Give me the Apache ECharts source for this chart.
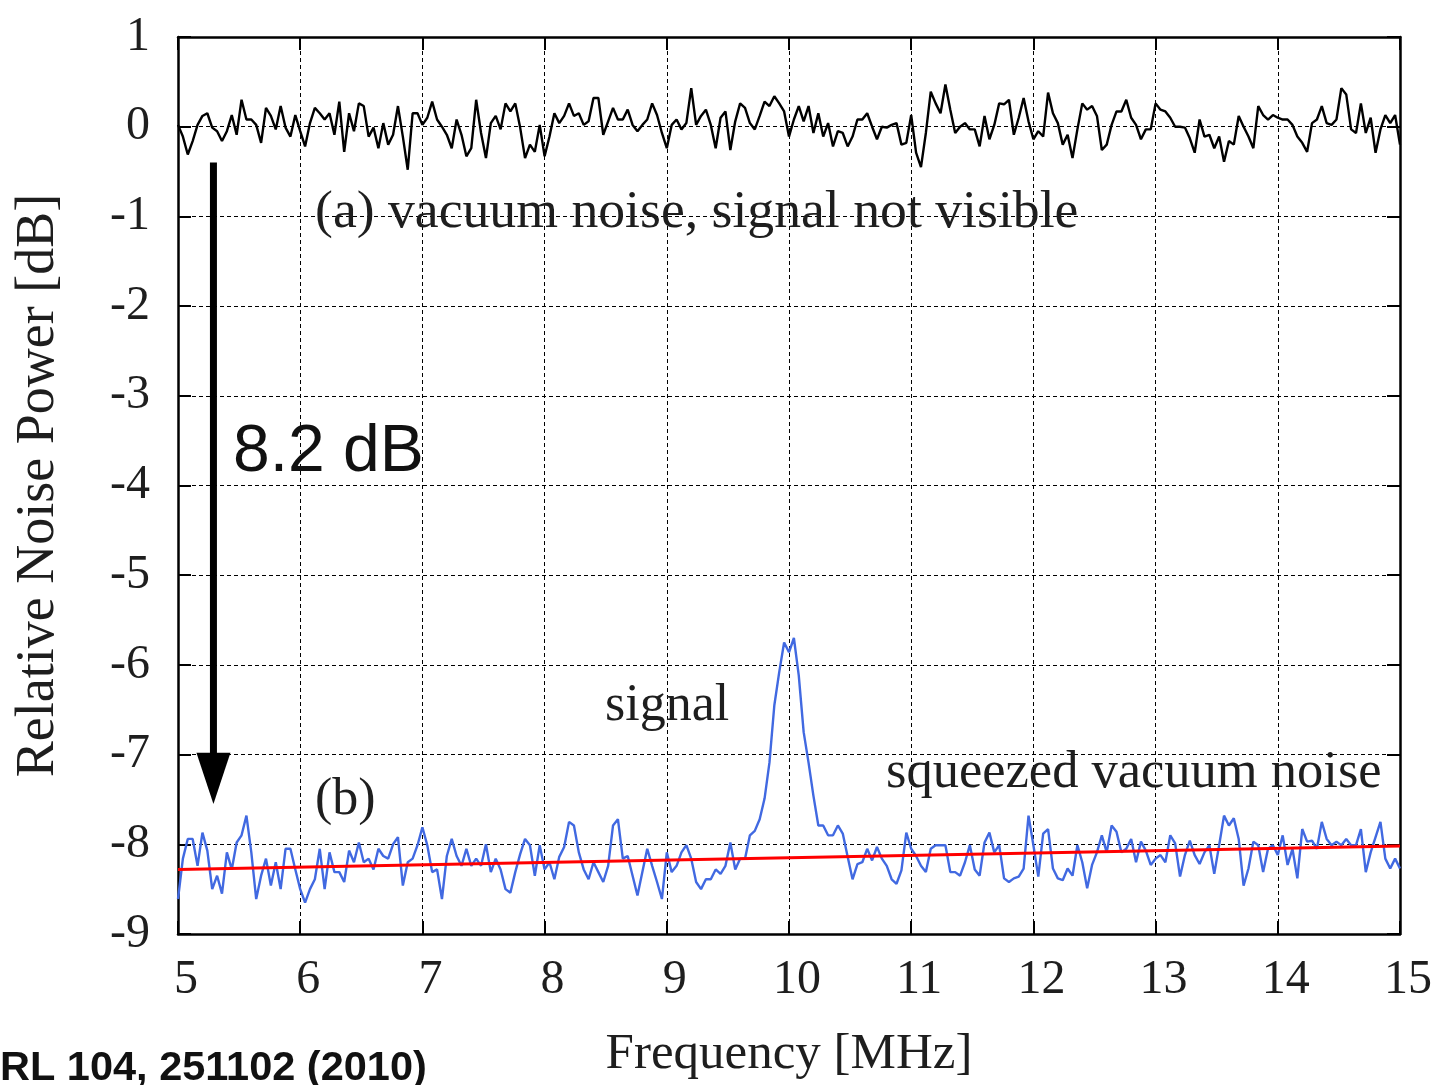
<!DOCTYPE html>
<html><head><meta charset="utf-8">
<script src="https://cdn.jsdelivr.net/npm/echarts@6/dist/echarts.min.js"></script>
<style>html,body{margin:0;padding:0;background:#fff;}#c{width:1437px;height:1085px;}</style>
</head><body><div id="c"></div>
<script>
// Frequency sample grid (MHz): 251 samples from 5 to 15 MHz
const freqStart = 5, freqStep = 0.04;
// (a) vacuum noise, dB
const vacuumDb = [
0.02,-0.11,-0.31,-0.16,0.02,0.12,0.15,-0.01,-0.05,-0.16,-0.05,0.13,-0.09,0.30,0.08,0.08,0.02,-0.18,0.21,0.12,-0.03,0.23,-0.01,-0.11,0.13,
-0.05,-0.22,0.04,0.21,0.15,0.08,0.15,-0.09,0.28,-0.28,0.15,-0.05,0.26,0.23,-0.11,-0.01,-0.24,0.04,-0.20,-0.09,0.23,-0.11,-0.48,0.15,0.15,
0.02,0.10,0.28,0.08,0.00,-0.09,-0.24,0.08,-0.09,-0.33,-0.24,0.30,-0.07,-0.35,0.04,0.12,-0.03,0.26,0.17,0.26,-0.01,-0.35,-0.20,-0.28,0.02,
-0.33,-0.11,0.15,0.04,0.12,0.26,0.12,0.15,0.02,0.06,0.32,0.32,-0.09,0.06,0.21,0.08,0.08,0.19,0.02,-0.05,0.02,0.08,0.26,0.13,-0.07,
-0.24,0.02,0.08,-0.03,0.04,0.43,0.02,0.12,0.19,0.02,-0.24,0.10,0.17,-0.26,0.06,0.26,0.21,0.04,-0.03,0.12,0.28,0.23,0.34,0.26,0.17,
-0.11,0.08,0.23,0.06,0.23,-0.07,0.15,-0.11,0.04,-0.22,-0.05,-0.07,-0.22,-0.11,0.08,0.08,0.15,0.00,-0.14,0.00,-0.01,0.02,0.04,-0.20,-0.18,
0.13,-0.29,-0.45,-0.07,0.39,0.26,0.15,0.47,0.19,-0.07,0.00,0.04,-0.03,-0.03,-0.22,0.12,-0.14,0.02,0.26,0.25,0.30,-0.09,0.10,0.32,0.06,
-0.14,-0.05,-0.11,0.38,0.15,0.04,-0.20,-0.09,-0.35,-0.03,0.26,0.19,0.23,0.12,-0.26,-0.20,0.02,0.17,0.17,0.30,0.10,0.02,-0.14,-0.03,-0.03,
0.26,0.19,0.17,0.10,0.00,0.00,-0.01,-0.13,-0.29,0.08,-0.11,-0.09,-0.24,-0.11,-0.39,-0.16,-0.20,0.12,0.00,-0.11,-0.24,0.23,0.13,0.08,0.13,
0.10,0.08,0.08,0.02,-0.11,-0.18,-0.28,0.04,0.08,0.23,0.04,0.02,0.08,0.43,0.36,-0.03,-0.07,0.26,-0.07,0.10,-0.29,-0.03,0.13,0.04,0.13,-0.20
];
// (b) squeezed vacuum noise with signal, dB
const squeezedDb = [
-8.61,-8.16,-7.94,-7.94,-8.24,-7.87,-8.07,-8.50,-8.35,-8.55,-8.09,-8.28,-7.98,-7.90,-7.68,-8.09,-8.61,-8.35,-8.16,-8.46,-8.20,-8.50,-8.05,-8.05,-8.28,
-8.50,-8.65,-8.50,-8.39,-8.05,-8.50,-8.09,-8.31,-8.31,-8.42,-8.07,-8.20,-7.98,-8.20,-8.16,-8.28,-8.05,-8.13,-8.16,-8.00,-7.92,-8.46,-8.20,-8.16,-8.01,
-7.81,-8.01,-8.31,-8.28,-8.61,-8.13,-7.94,-8.13,-8.24,-8.05,-8.24,-8.16,-8.24,-8.00,-8.31,-8.16,-8.28,-8.50,-8.54,-8.31,-8.11,-7.94,-8.01,-8.35,-8.01,
-8.28,-8.20,-8.39,-8.14,-8.03,-7.75,-7.79,-8.09,-8.28,-8.39,-8.20,-8.31,-8.42,-8.24,-7.79,-7.72,-8.16,-8.13,-8.35,-8.57,-8.31,-8.05,-8.24,-8.42,-8.61,
-8.09,-8.31,-8.24,-8.09,-8.01,-8.16,-8.42,-8.50,-8.39,-8.39,-8.28,-8.33,-8.24,-7.98,-8.28,-8.16,-8.16,-7.90,-7.85,-7.72,-7.49,-7.09,-6.45,-6.08,-5.75,
-5.86,-5.70,-6.12,-6.75,-7.09,-7.46,-7.79,-7.79,-7.90,-7.90,-7.79,-7.88,-8.14,-8.39,-8.22,-8.20,-8.05,-8.18,-8.03,-8.16,-8.24,-8.39,-8.44,-8.29,-7.87,
-8.05,-8.13,-8.24,-8.31,-8.05,-8.01,-8.01,-8.01,-8.31,-8.31,-8.35,-8.20,-8.01,-8.28,-8.35,-7.98,-7.87,-8.09,-8.01,-8.38,-8.42,-8.38,-8.36,-8.27,-7.68,
-8.01,-8.36,-7.88,-7.83,-8.27,-8.38,-8.40,-8.27,-8.35,-8.01,-8.20,-8.49,-8.23,-8.09,-7.90,-8.09,-7.79,-7.86,-8.09,-8.05,-7.94,-8.20,-7.97,-8.07,-8.23,
-8.16,-8.12,-8.20,-7.90,-7.99,-8.36,-8.12,-7.96,-8.12,-8.22,-8.09,-8.01,-8.33,-8.01,-7.68,-7.79,-7.71,-7.94,-8.46,-8.27,-7.97,-8.01,-8.31,-8.05,-8.01,
-8.12,-7.90,-8.23,-8.05,-8.38,-7.83,-7.97,-7.96,-8.05,-7.75,-7.94,-8.01,-7.97,-8.01,-7.94,-8.01,-8.01,-7.83,-8.31,-8.09,-7.92,-7.75,-8.16,-8.27,-8.16,-8.27
];
// fitted squeezed noise level (red line)
const fitFreq = [5, 15];
const fitDb = [-8.28, -8.02];
// axis ranges
const xRange = [5, 15], yRange = [-9, 1];
// arrow annotation (data coordinates)
const arrowFreq = 5.29, arrowTopDb = -0.40, arrowHeadDb = -6.98, arrowTipDb = -7.55;

function pairs(vals){ return vals.map((v,i)=>[+(freqStart+i*freqStep).toFixed(4), v]); }

const serif = '"Liberation Serif", "Times New Roman", serif';
const txt = '#1e1e1e';
const frame = {show:true, onZero:false, lineStyle:{color:'#000', width:2.5}};
const tick = {show:true, inside:true, length:13, lineStyle:{color:'#000', width:2}};

const chart = echarts.init(document.getElementById('c'), null, {renderer:'canvas'});
chart.setOption({
  animation:false,
  backgroundColor:'#fff',
  grid:{left:178, right:37, top:37, bottom:150},
  xAxis:[
    {type:'value', min:xRange[0], max:xRange[1], interval:1, position:'bottom',
     axisLine:frame, axisTick:tick,
     axisLabel:{fontFamily:serif, fontSize:48, color:txt, margin:22, padding:[0,0,0,16]},
     splitLine:{show:true, lineStyle:{type:[4,3], color:'#000', width:1}},
     name:'Frequency [MHz]', nameLocation:'middle', nameGap:95,
     nameTextStyle:{fontFamily:serif, fontSize:51, color:txt}},
    {type:'value', min:xRange[0], max:xRange[1], interval:1, position:'top',
     axisLine:frame, axisTick:tick, axisLabel:{show:false}, splitLine:{show:false}}
  ],
  yAxis:[
    {type:'value', min:yRange[0], max:yRange[1], interval:1, position:'left',
     axisLine:frame, axisTick:tick,
     axisLabel:{fontFamily:serif, fontSize:48, color:txt, margin:28},
     splitLine:{show:true, lineStyle:{type:[4,3], color:'#000', width:1}},
     name:'Relative Noise Power [dB]', nameLocation:'middle', nameGap:112,
     nameTextStyle:{fontFamily:serif, fontSize:54, color:txt}},
    {type:'value', min:yRange[0], max:yRange[1], interval:1, position:'right',
     axisLine:frame, axisTick:tick, axisLabel:{show:false}, splitLine:{show:false}}
  ],
  series:[
    {type:'line', name:'vacuum', data:pairs(vacuumDb), showSymbol:false, symbol:'none',
     lineStyle:{color:'#000', width:2.4}, z:3},
    {type:'line', name:'squeezed', data:pairs(squeezedDb), showSymbol:false, symbol:'none',
     lineStyle:{color:'#4169e1', width:2.4}, z:3},
    {type:'line', name:'fit', data:fitFreq.map((f,i)=>[f, fitDb[i]]), showSymbol:false, symbol:'none',
     lineStyle:{color:'#ff0000', width:3}, z:4}
  ]
});

const p0 = chart.convertToPixel({gridIndex:0}, [arrowFreq, arrowTopDb]);
const p1 = chart.convertToPixel({gridIndex:0}, [arrowFreq, arrowHeadDb]);
const p2 = chart.convertToPixel({gridIndex:0}, [arrowFreq, arrowTipDb]);
const shaftW = 7, headW = 34;
chart.setOption({
  graphic:[
    {type:'rect', shape:{x:p0[0]-shaftW/2, y:p0[1], width:shaftW, height:p1[1]-p0[1]+2}, style:{fill:'#000'}, z:10},
    {type:'polygon', shape:{points:[[p1[0]-headW/2,p1[1]],[p1[0]+headW/2,p1[1]],[p2[0],p2[1]]]}, style:{fill:'#000'}, z:10},
    {type:'text', x:315, y:213, style:{text:'(a) vacuum noise, signal not visible', font:'53.7px '+serif, fill:txt, verticalAlign:'middle', textVerticalAlign:'middle'}, z:10},
    {type:'text', x:233, y:453, style:{text:'8.2 dB', font:'66px "Liberation Sans", Arial, sans-serif', fill:'#111', verticalAlign:'middle', textVerticalAlign:'middle'}, z:10},
    {type:'text', x:605, y:706, style:{text:'signal', font:'52px '+serif, fill:txt, verticalAlign:'middle', textVerticalAlign:'middle'}, z:10},
    {type:'text', x:315, y:800, style:{text:'(b)', font:'52px '+serif, fill:txt, verticalAlign:'middle', textVerticalAlign:'middle'}, z:10},
    {type:'text', x:886, y:773, style:{text:'squeezed vacuum noise', font:'52.5px '+serif, fill:txt, verticalAlign:'middle', textVerticalAlign:'middle'}, z:10},
    {type:'text', x:0, y:1069, style:{text:'RL 104, 251102 (2010)', font:'bold 41.5px "Liberation Sans", Arial, sans-serif', fill:'#111', verticalAlign:'middle', textVerticalAlign:'middle'}, z:10}
  ]
});
</script></body></html>
